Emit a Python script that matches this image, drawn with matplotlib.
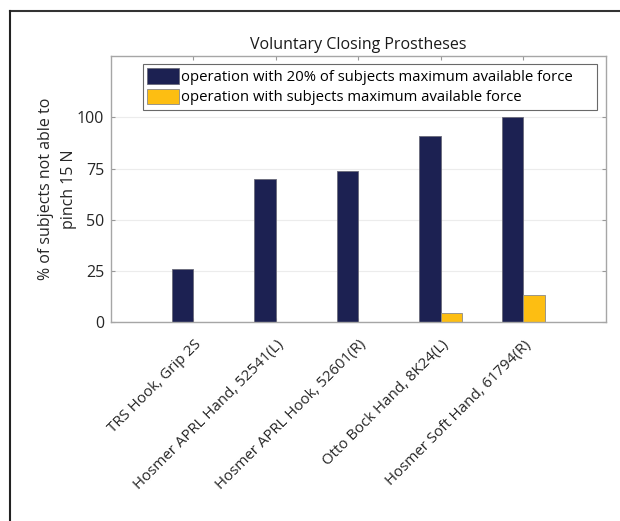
import numpy as np
import matplotlib
matplotlib.use("Agg")
import matplotlib.pyplot as plt
from matplotlib.lines import Line2D

plt.rcParams['font.family'] = ['Open Sans', 'DejaVu Sans']

devices = ["TRS Hook, Grip 2S", "Hosmer APRL Hand, 52541(L)",
           "Hosmer APRL Hook, 52601(R)", "Otto Bock Hand, 8K24(L)",
           "Hosmer Soft Hand, 61794(R)"]
low_force = [26, 70, 74, 91, 100]
max_force = [0, 0, 0, 4.5, 13]
labels = ["operation with 20% of subjects maximum available force",
          "operation with subjects maximum available force"]
yticks = [0, 25, 50, 75, 100]

fig = plt.figure(figsize=(6.2, 5.21), dpi=100)
ax = fig.add_axes([0.179, 0.382, 0.798, 0.5105])

x = np.arange(1, len(devices) + 1)
w = 0.26
ax.bar(x - w / 2, low_force, w, color="#1c2152", edgecolor="#6a6a7a", linewidth=0.6, label=labels[0])
ax.bar(x + w / 2, max_force, w, color="#fdbe12", edgecolor="#8a8a8a", linewidth=0.6, label=labels[1])

ax.set_xlim(0, 6)
ax.set_ylim(0, 130)
ax.set_yticks(yticks)
ax.set_xticks(x)
ax.set_xticklabels(devices, rotation=45, ha="right", rotation_mode="anchor", fontsize=10.8, color="#262626")
ax.tick_params(axis="x", pad=11)
ax.tick_params(axis="y", labelsize=11.5, colors="#262626", pad=5)
ax.tick_params(direction="in", top=True, right=True, length=3, color="#999999")
ax.yaxis.grid(True, color="#ececec", linewidth=0.8)
ax.set_axisbelow(True)
for s in ax.spines.values():
    s.set_color("#a6a6a6")
    s.set_linewidth(1.0)

ax.set_title("Voluntary Closing Prostheses", fontsize=11.5, pad=5, color="#1a1a1a")
ax.set_ylabel("% of subjects not able to\npinch 15 N", fontsize=11.5, color="#262626", labelpad=0,
              linespacing=1.55)

leg = ax.legend(loc="upper left", bbox_to_anchor=(0.0646, 0.789, 0.917, 0.181), mode="expand",
                fontsize=10.7, frameon=True, fancybox=False, edgecolor="#444444",
                handlelength=2.1, handleheight=1.2, handletextpad=0.15, borderpad=0.3,
                labelspacing=0.25, borderaxespad=0)
leg.get_frame().set_linewidth(0.8)

# outer frame (top and left edges)
fig.add_artist(Line2D([0.016, 1.0], [0.979, 0.979], color="#333333", linewidth=1.5, transform=fig.transFigure))
fig.add_artist(Line2D([0.016, 0.016], [0.0, 0.979], color="#222222", linewidth=1.5, transform=fig.transFigure))

fig.savefig("out.png", dpi=100)
